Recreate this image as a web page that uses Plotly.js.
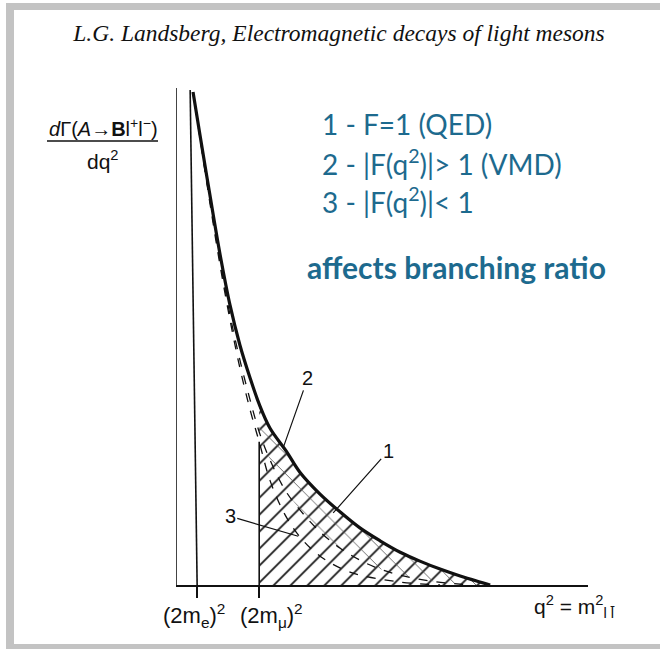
<!DOCTYPE html>
<html><head><meta charset="utf-8">
<script src="https://cdn.plot.ly/plotly-3.0.1.min.js"></script>
<style>
html,body{margin:0;padding:0;background:#fff;}
#wrap{position:relative;width:660px;height:649px;overflow:hidden;}
#chart{position:absolute;left:0;top:0;width:660px;height:649px;}
.bar{position:absolute;background:#c3c3c3;pointer-events:none;z-index:5;}
</style></head><body>
<div id="wrap"><div id="chart"></div>
<div class="bar" style="left:6px;top:3px;width:654px;height:7px"></div>
<div class="bar" style="left:6px;top:3px;width:8px;height:646px"></div>
<div class="bar" style="left:6px;top:644px;width:654px;height:5px"></div>
</div>
<script>
// ---- data (arbitrary schematic units: q^2 on x, dGamma/dq^2 on y) ----
const thresholdE = 0.49;   // (2 m_e)^2
const thresholdMu = 2.00;  // (2 m_mu)^2
const tickLabels = ["(2m<sub>e</sub>)<sup>2</sup>", "(2m<sub>μ</sub>)<sup>2</sup>"];

// electron-pair spectrum (near-vertical line)
const electronX = [0.32, 0.49];
const electronY = [9.96, 0.00];

// curve 2 : |F(q^2)| > 1 (VMD), thick
const curve2X = [0.39, 0.56, 0.80, 1.05, 1.29, 1.53, 1.78, 2.00, 2.26, 2.67, 2.99, 3.48, 3.97, 4.45, 4.94, 5.43, 5.91, 6.40, 6.89, 7.37, 7.62];
const curve2Y = [9.92, 9.05, 7.85, 6.64, 5.63, 4.83, 4.16, 3.64, 3.16, 2.68, 2.27, 1.83, 1.47, 1.15, 0.89, 0.66, 0.48, 0.32, 0.18, 0.06, 0.00];

// curve 1 : F = 1 (QED)
const curve1X = [0.39, 0.56, 0.80, 1.05, 1.29, 1.53, 1.78, 2.00, 2.26, 2.63, 2.99, 3.48, 3.97, 4.45, 4.94, 5.43, 6.16, 7.13];
const curve1Y = [9.92, 9.01, 7.75, 6.50, 5.43, 4.53, 3.72, 3.08, 2.52, 1.91, 1.51, 1.07, 0.74, 0.50, 0.32, 0.20, 0.08, 0.00];

// curve 3 : |F(q^2)| < 1
const curve3X = [0.39, 0.56, 0.80, 1.05, 1.29, 1.53, 1.78, 2.00, 2.26, 2.63, 2.99, 3.48, 4.21, 5.43, 6.40];
const curve3Y = [9.92, 8.99, 7.69, 6.42, 5.33, 4.37, 3.52, 2.88, 2.11, 1.41, 0.97, 0.58, 0.26, 0.06, 0.00];

// labels
const legendLines = ["1 - F=1 (QED)", "2 - |F(q<sup>2</sup>)|> 1 (VMD)", "3 - |F(q<sup>2</sup>)|< 1"];
const noteText = "affects branching ratio";
const titleText = "L.G. Landsberg, Electromagnetic decays of light mesons";
const curveLabels = ["1", "2", "3"];
// points the labels point to (on curves)
const labelPointX = [3.80, 2.60, 2.95];
const labelPointY = [1.45, 2.80, 0.98];

// ---- build ----
function segFrom(xs, ys, x0) {
  const ox = [], oy = [];
  xs.forEach((x, i) => { if (x >= x0) { ox.push(x); oy.push(ys[i]); } });
  return {x: ox, y: oy};
}
const hatch2 = segFrom(curve2X, curve2Y, thresholdMu);
const hatch1 = segFrom(curve1X, curve1Y, thresholdMu);
const c3seg = segFrom(curve3X, curve3Y, thresholdMu);

const ink = "#111";
const traces = [
  {x: hatch2.x, y: hatch2.y, mode: "lines", line: {width: 0, color: "rgba(0,0,0,0)"},
   fill: "tozeroy", fillcolor: "rgba(0,0,0,0)",
   fillpattern: {shape: "/", size: 12, solidity: 0.15, fgcolor: "#1a1a1a", bgcolor: "rgba(0,0,0,0)"},
   hoverinfo: "skip"},
  {x: hatch1.x, y: hatch1.y, mode: "lines", line: {width: 0, color: "rgba(0,0,0,0)"}, hoverinfo: "skip"},
  {x: hatch2.x, y: hatch2.y, mode: "lines", line: {width: 0, color: "rgba(0,0,0,0)"},
   fill: "tonexty", fillcolor: "rgba(0,0,0,0)",
   fillpattern: {shape: "\\", size: 14, solidity: 0.06, fgcolor: "#555", bgcolor: "rgba(0,0,0,0)"},
   hoverinfo: "skip"},
  {x: [thresholdMu, thresholdMu], y: [0, c3seg.y[0]], mode: "lines", line: {color: ink, width: 1.6}},
  {x: electronX, y: electronY, mode: "lines", line: {color: ink, width: 1.6}},
  {x: curve3X, y: curve3Y, mode: "lines", line: {color: ink, width: 1.3, dash: "dash", shape: "spline"}},
  {x: curve1X, y: curve1Y, mode: "lines", line: {color: ink, width: 1.3, dash: "dash", shape: "spline"}},
  {x: curve2X, y: curve2Y, mode: "lines", line: {color: ink, width: 3.2, shape: "spline"}}
];

const teal = "#1d6a8e";
const sans = "Liberation Sans, Arial";
const annotations = [];
annotations.push({x: thresholdE, y: 0, xref: "x", yref: "y", text: tickLabels[0], showarrow: false,
  xanchor: "center", yanchor: "top", yshift: -13, xshift: -3,
  font: {family: sans, size: 22, color: ink}});
annotations.push({x: thresholdMu, y: 0, xref: "x", yref: "y", text: tickLabels[1], showarrow: false,
  xanchor: "center", yanchor: "top", yshift: -13, xshift: 12,
  font: {family: sans, size: 22, color: ink}});
annotations.push({x: (574 - 177) / 411, y: -0.01, xref: "paper", yref: "paper", text: "q<sup>2</sup> = m<sup>2</sup><sub>l l̄</sub>",
  showarrow: false, xanchor: "center", yanchor: "top", font: {family: sans, size: 21, color: ink}});
annotations.push({x: (103 - 177) / 411, y: (585 - 128) / 497, xref: "paper", yref: "paper",
  text: "<i>d</i>Γ(<i>A</i>→<b>B</b>l<sup>+</sup>l<sup>−</sup>)", showarrow: false,
  xanchor: "center", yanchor: "middle", font: {family: sans, size: 20, color: ink}});
annotations.push({x: (103 - 177) / 411, y: (585 - 160) / 497, xref: "paper", yref: "paper",
  text: "dq<sup>2</sup>", showarrow: false,
  xanchor: "center", yanchor: "middle", font: {family: sans, size: 21, color: ink}});
const legY = [124, 162, 200];
legendLines.forEach((t, i) => annotations.push({x: (320 - 177) / 411, y: (585 - legY[i]) / 497, xref: "paper", yref: "paper",
  text: t, showarrow: false, xanchor: "left", yanchor: "middle",
  font: {family: "Lato, Open Sans", size: 28, color: teal}}));
annotations.push({x: (305 - 177) / 411, y: (585 - 267) / 497, xref: "paper", yref: "paper",
  text: "<b>" + noteText + "</b>", showarrow: false, xanchor: "left", yanchor: "middle",
  font: {family: "Lato, Open Sans", size: 30, color: teal}});
const labelOffsets = [[55, -62], [24, -68], [-68, -20]];
curveLabels.forEach((t, i) => annotations.push({x: labelPointX[i], y: labelPointY[i], xref: "x", yref: "y",
  text: t, showarrow: true, arrowhead: 0, arrowwidth: 1.2, arrowcolor: ink,
  ax: labelOffsets[i][0], ay: labelOffsets[i][1], standoff: 0,
  font: {family: sans, size: 20, color: ink}}));

const layout = {
  width: 660, height: 649,
  margin: {l: 177, r: 72, t: 88, b: 64},
  paper_bgcolor: "#fff", plot_bgcolor: "#fff",
  showlegend: false,
  title: {text: "<i>" + titleText + "</i>", x: 339 / 660, xanchor: "center", y: 1 - 33 / 649, yanchor: "middle",
    font: {family: "Liberation Serif, Times New Roman", size: 23.5, color: ink}},
  xaxis: {range: [0, 10], showgrid: false, zeroline: false, showline: true, linecolor: ink, linewidth: 1.5,
    ticks: "outside", ticklen: 11, tickwidth: 1.5, tickcolor: ink, tickvals: [thresholdE, thresholdMu],
    showticklabels: false, fixedrange: true},
  yaxis: {range: [0, 10], showgrid: false, zeroline: false, showline: true, linecolor: "#444", linewidth: 1,
    ticks: "", showticklabels: false, fixedrange: true},
  shapes: [{type: "line", xref: "paper", yref: "paper", x0: (47 - 177) / 411, x1: (158 - 177) / 411,
    y0: (585 - 141) / 497, y1: (585 - 141) / 497, line: {color: ink, width: 1.3}}],
  annotations: annotations
};
Plotly.newPlot("chart", traces, layout, {staticPlot: true});
</script>
</body></html>
